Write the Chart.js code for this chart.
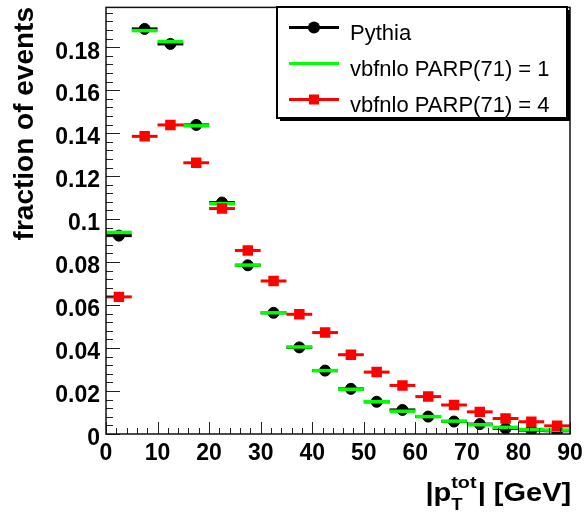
<!DOCTYPE html>
<html>
<head>
<meta charset="utf-8">
<script src="https://cdn.jsdelivr.net/npm/chart.js@4/dist/chart.umd.min.js"></script>
<style>
  html, body { margin: 0; padding: 0; background: #fff; }
  canvas { display: block; }
</style>
</head>
<body>
<canvas id="chart" width="584" height="515"></canvas>
<script>
// bins of 5 GeV
const binCenters = [2.5, 7.5, 12.5, 17.5, 22.5, 27.5, 32.5, 37.5, 42.5, 47.5, 52.5, 57.5, 62.5, 67.5, 72.5, 77.5, 82.5, 87.5];
const binWidth = 5;
const pythia   = [0.0923, 0.1885, 0.1815, 0.1438, 0.1077, 0.0785, 0.0564, 0.0403, 0.0295, 0.0210, 0.0150, 0.0112, 0.0081, 0.0058, 0.0046, 0.0026, 0.0018, 0.0015];
const vbfParp1 = [0.0938, 0.1877, 0.1826, 0.1434, 0.1072, 0.0786, 0.0564, 0.0405, 0.0295, 0.0208, 0.0150, 0.0106, 0.0081, 0.0060, 0.0043, 0.0031, 0.0021, 0.0018];
const vbfParp4 = [0.0638, 0.1385, 0.1438, 0.1262, 0.1049, 0.0854, 0.0712, 0.0557, 0.0472, 0.0369, 0.0288, 0.0226, 0.0174, 0.0135, 0.0103, 0.0072, 0.0057, 0.0038];
const seriesLabels = ['Pythia', 'vbfnlo PARP(71) = 1', 'vbfnlo PARP(71) = 4'];
const xTicks = [0, 10, 20, 30, 40, 50, 60, 70, 80, 90];
const yTicks = [0, 0.02, 0.04, 0.06, 0.08, 0.1, 0.12, 0.14, 0.16, 0.18];
const yTitle = 'fraction of events';

const FONT = '"Liberation Sans", Arial, Helvetica, sans-serif';

function pts(vals) {
  return binCenters.map((x, i) => ({ x: x, y: vals[i] }));
}

// horizontal bin-width bars, drawn just before each dataset's markers
const binBars = {
  id: 'binBars',
  beforeDatasetDraw(chart, args) {
    const ds = chart.data.datasets[args.index];
    const xs = chart.scales.x, ys = chart.scales.y;
    const ctx = chart.ctx;
    ctx.save();
    ctx.strokeStyle = ds.borderColor;
    ctx.lineWidth = ds.barLine;
    ds.data.forEach(p => {
      const y = ys.getPixelForValue(p.y);
      ctx.beginPath();
      ctx.moveTo(xs.getPixelForValue(p.x - binWidth / 2), y);
      ctx.lineTo(xs.getPixelForValue(p.x + binWidth / 2), y);
      ctx.stroke();
    });
    ctx.restore();
  }
};

// ROOT-like frame, inner ticks, titles and legend
const decor = {
  id: 'decor',
  afterDraw(chart) {
    const ctx = chart.ctx;
    const a = chart.chartArea;
    const xs = chart.scales.x, ys = chart.scales.y;
    ctx.save();

    // ticks
    ctx.strokeStyle = '#222';
    ctx.lineWidth = 1;
    ctx.beginPath();
    for (let v = 0; v <= 0.1985; v += 0.004) {
      const y = Math.round(ys.getPixelForValue(v)) + 0.5;
      const major = Math.abs(v / 0.02 - Math.round(v / 0.02)) < 1e-6;
      ctx.moveTo(a.left, y);
      ctx.lineTo(a.left + (major ? 14 : 7), y);
    }
    for (let v = 0; v <= 90; v += 2) {
      const x = Math.round(xs.getPixelForValue(v)) + 0.5;
      ctx.moveTo(x, a.bottom);
      ctx.lineTo(x, a.bottom - (v % 10 === 0 ? 12 : 6));
    }
    ctx.stroke();

    // frame
    ctx.lineWidth = 1.5;
    ctx.strokeStyle = '#111';
    ctx.strokeRect(a.left, a.top, a.right - a.left, a.bottom - a.top);

    // y title
    ctx.fillStyle = '#000';
    ctx.save();
    ctx.translate(33, 7);
    ctx.rotate(-Math.PI / 2);
    ctx.font = 'bold 28px ' + FONT;
    ctx.textAlign = 'right';
    ctx.textBaseline = 'alphabetic';
    ctx.fillText(yTitle, 0, 0);
    ctx.restore();

    // x title |p_T^tot| [GeV]
    ctx.save();
    ctx.translate(570, 501);
    ctx.scale(1.16, 1);
    ctx.textAlign = 'left';
    ctx.textBaseline = 'alphabetic';
    const mainF = 'bold 25px ' + FONT, supF = 'bold 17px ' + FONT, subF = 'bold 16px ' + FONT;
    ctx.font = mainF; const wA = ctx.measureText('|p').width; const wB = ctx.measureText('| [GeV]').width;
    ctx.font = supF; const wSup = ctx.measureText('tot').width;
    ctx.font = subF; const wSub = ctx.measureText('T').width;
    const wS = Math.max(wSup, wSub);
    let x0 = -(wA + wS + wB);
    ctx.font = mainF; ctx.fillText('|p', x0, 0);
    ctx.font = supF; ctx.fillText('tot', x0 + wA, -13);
    ctx.font = subF; ctx.fillText('T', x0 + wA, 9);
    ctx.font = mainF; ctx.fillText('| [GeV]', x0 + wA + wS + 1, 0);
    ctx.restore();

    // legend
    const L = { x: 277, y: 7, w: 290, h: 111 };
    ctx.fillStyle = '#000';
    ctx.fillRect(L.x + 3, L.y + 3, L.w, L.h);
    ctx.fillStyle = '#fff';
    ctx.fillRect(L.x, L.y, L.w, L.h);
    ctx.lineWidth = 2;
    ctx.strokeStyle = '#000';
    ctx.strokeRect(L.x, L.y, L.w, L.h);
    const ds = chart.data.datasets;
    const rowOrder = [2, 1, 0];
    ctx.font = '22px ' + FONT;
    ctx.textAlign = 'left';
    rowOrder.forEach((di, r) => {
      const d = ds[di];
      const cy = 27.5 + r * 36;
      ctx.strokeStyle = d.borderColor;
      ctx.lineWidth = 3;
      ctx.beginPath();
      ctx.moveTo(289, cy);
      ctx.lineTo(339, cy);
      ctx.stroke();
      ctx.fillStyle = d.borderColor;
      if (d.pointStyle === 'circle' && d.pointRadius > 0) {
        ctx.beginPath();
        ctx.arc(314, cy, 6, 0, Math.PI * 2);
        ctx.fill();
      } else if (d.pointStyle === 'rect' && d.pointRadius > 0) {
        ctx.fillRect(309, cy - 5, 10, 10);
      }
      ctx.fillStyle = '#000';
      ctx.fillText(d.label, 350, cy + 12);
    });

    ctx.restore();
  }
};

const tickFont = { family: FONT, size: 23, weight: 'bold' };

new Chart(document.getElementById('chart').getContext('2d'), {
  type: 'scatter',
  data: {
    datasets: [
      {
        label: seriesLabels[2], data: pts(vbfParp4), order: 1,
        borderColor: '#ff0000', backgroundColor: '#ff0000', barLine: 3,
        pointStyle: 'rect', pointRadius: 7.4, pointBorderWidth: 0, showLine: false
      },
      {
        label: seriesLabels[1], data: pts(vbfParp1), order: 2,
        borderColor: '#00ff00', backgroundColor: '#00ff00', barLine: 3.5,
        pointStyle: 'circle', pointRadius: 0, showLine: false
      },
      {
        label: seriesLabels[0], data: pts(pythia), order: 3,
        borderColor: '#000000', backgroundColor: '#000000', barLine: 3,
        pointStyle: 'circle', pointRadius: 5.5, pointBorderWidth: 1, showLine: false
      }
    ]
  },
  options: {
    responsive: false,
    animation: false,
    events: [],
    layout: { padding: { top: 3, right: 14, left: 0, bottom: 0 } },
    plugins: { legend: { display: false }, tooltip: { enabled: false } },
    scales: {
      x: {
        type: 'linear', min: 0, max: 90,
        afterBuildTicks: s => { s.ticks = xTicks.map(v => ({ value: v })); },
        afterFit: s => { s.height = 81; s.paddingLeft = 0; s.paddingRight = 0; },
        grid: { display: false, drawTicks: false },
        border: { display: false },
        ticks: { font: tickFont, color: '#000', padding: 6, maxRotation: 0, autoSkip: false }
      },
      y: {
        type: 'linear', min: 0, max: 0.1985,
        afterBuildTicks: s => { s.ticks = yTicks.map(v => ({ value: v })); },
        afterFit: s => { s.width = 106; s.paddingTop = 0; s.paddingBottom = 0; },
        grid: { display: false, drawTicks: false },
        border: { display: false },
        ticks: {
          font: tickFont, color: '#000', padding: 6, labelOffset: 5,
          callback: v => String(+(+v).toFixed(2))
        }
      }
    }
  },
  plugins: [binBars, decor]
});
</script>
</body>
</html>
